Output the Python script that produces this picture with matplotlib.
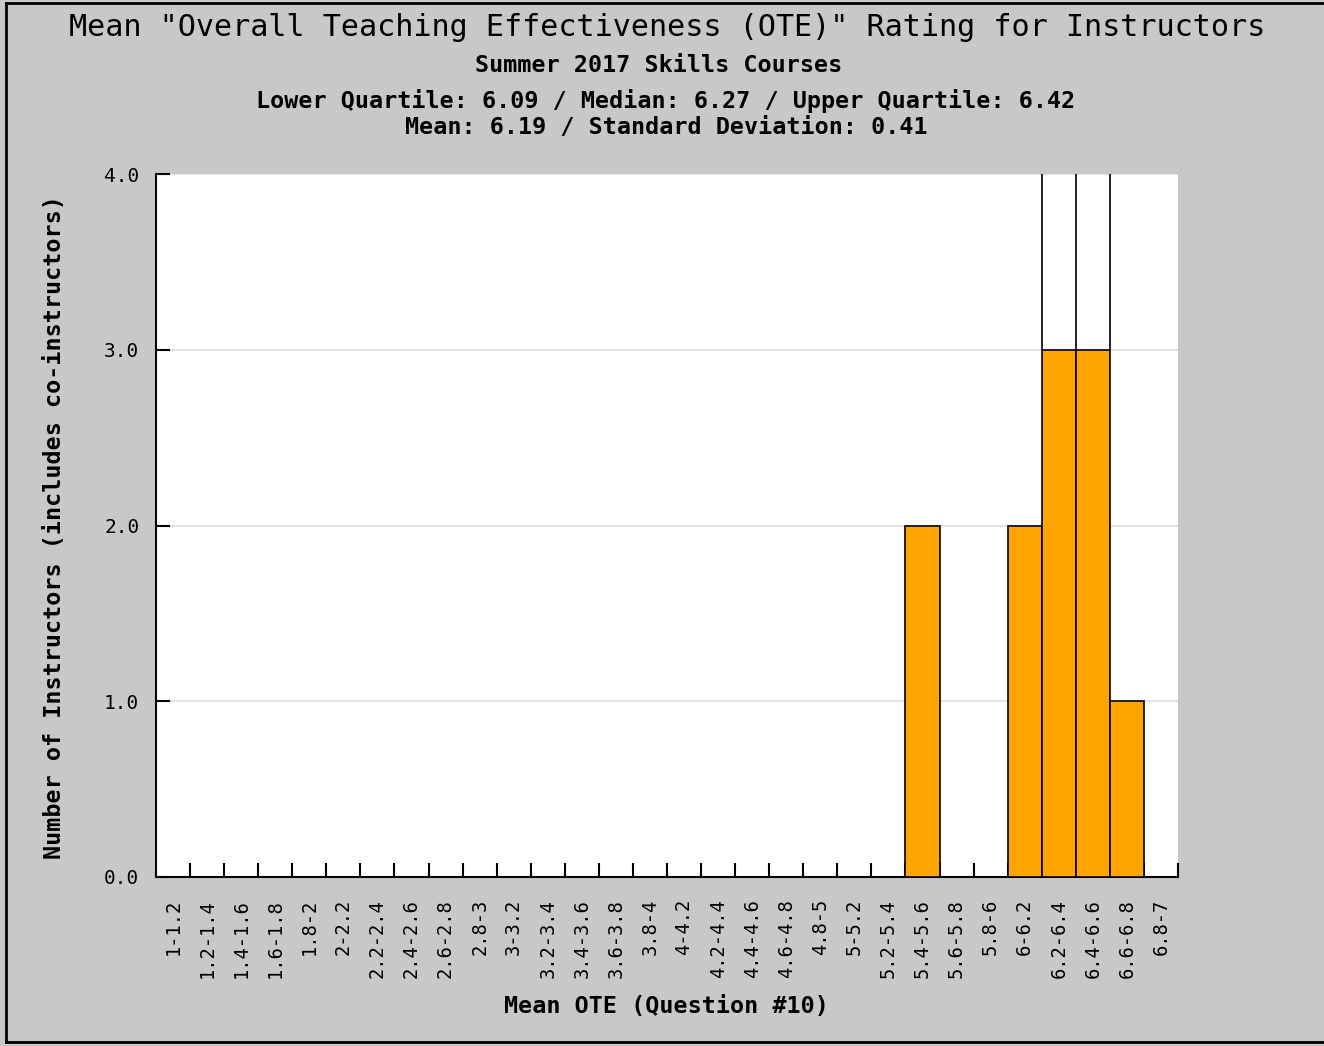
import numpy as np
import matplotlib
matplotlib.use('Agg')
import matplotlib.pyplot as plt
from matplotlib.lines import Line2D

# bins of mean OTE and the instructor count in each
bin_labels = ['1-1.2', '1.2-1.4', '1.4-1.6', '1.6-1.8', '1.8-2', '2-2.2', '2.2-2.4',
              '2.4-2.6', '2.6-2.8', '2.8-3', '3-3.2', '3.2-3.4', '3.4-3.6', '3.6-3.8',
              '3.8-4', '4-4.2', '4.2-4.4', '4.4-4.6', '4.6-4.8', '4.8-5', '5-5.2',
              '5.2-5.4', '5.4-5.6', '5.6-5.8', '5.8-6', '6-6.2', '6.2-6.4', '6.4-6.6',
              '6.6-6.8', '6.8-7']
counts = [0, 0, 0, 0, 0, 0, 0, 0, 0, 0, 0, 0, 0, 0, 0, 0, 0, 0, 0, 0, 0,
          0, 2, 0, 0, 2, 3, 3, 1, 0]
y_ticks = [0, 1, 2, 3, 4]

title = 'Mean "Overall Teaching Effectiveness (OTE)" Rating for Instructors'
subtitle = 'Summer 2017 Skills Courses'
stats1 = 'Lower Quartile: 6.09 / Median: 6.27 / Upper Quartile: 6.42'
stats2 = 'Mean: 6.19 / Standard Deviation: 0.41'

bg = '#c8c8c8'
mono = 'DejaVu Sans Mono'

W, H = 1324, 1046
fig = plt.figure(figsize=(W / 100, H / 100), dpi=100, facecolor=bg)
ax = fig.add_axes([156 / W, 1 - 877 / H, (1178 - 156) / W, (877 - 174) / H])
ax.set_facecolor('white')

x = np.arange(len(bin_labels))
ax.bar(x, counts, width=1.0, color='#ffa500', edgecolor='black', linewidth=1.2, zorder=3)

ymax = y_ticks[-1]
ax.set_xlim(-0.5, len(bin_labels) - 0.5)
ax.set_ylim(0, ymax)

# lines above the tallest bars
top = max(counts)
edges = set()
for i, c in enumerate(counts):
    if c == top:
        edges.add(i - 0.5)
        edges.add(i + 0.5)
ax.vlines(sorted(edges), top, ymax, color='black', linewidth=1.2, zorder=3)

for s in ['top', 'right']:
    ax.spines[s].set_visible(False)
for s in ['left', 'bottom']:
    ax.spines[s].set_linewidth(1.5)

ax.set_yticks(y_ticks)
ax.set_yticklabels([f'{v:.1f}' for v in y_ticks], fontfamily=mono, fontsize=14)
ax.tick_params(axis='y', direction='in', length=10, width=1.5, pad=12)
ax.yaxis.grid(True, color='#dedede', linewidth=1.2, zorder=0)

ax.set_xticks(x)
ax.set_xticklabels(bin_labels, rotation=90, fontfamily=mono, fontsize=13.5, va='top')
ax.set_xticks(np.arange(len(bin_labels)) + 0.5, minor=True)
ax.tick_params(axis='x', which='major', length=0, pad=16)
ax.tick_params(axis='x', which='minor', direction='in', length=10, width=1.5)

fig.text(666 / W, 1 - 1006 / H, 'Mean OTE (Question #10)', ha='center', va='center',
         fontfamily=mono, fontsize=16.8, fontweight='bold')
fig.text(55 / W, 1 - 527 / H, 'Number of Instructors (includes co-instructors)', ha='center',
         va='center', rotation=90, fontfamily=mono, fontsize=16.8, fontweight='bold')

fig.text(667 / W, 1 - 28 / H, title, ha='center', va='center', fontfamily=mono, fontsize=21.7)
fig.text(659 / W, 1 - 65 / H, subtitle, ha='center', va='center', fontfamily=mono,
         fontsize=16.8, fontweight='bold')
fig.text(666 / W, 1 - 101 / H, stats1, ha='center', va='center', fontfamily=mono,
         fontsize=16.8, fontweight='bold')
fig.text(666 / W, 1 - 127 / H, stats2, ha='center', va='center', fontfamily=mono,
         fontsize=16.8, fontweight='bold')

# outer frame: left, top and bottom only
x0, yt, yb = 6 / W, 1 - 3 / H, 1 - 1042 / H
fig.lines.append(Line2D([x0, x0], [yb, yt], transform=fig.transFigure, color='black', linewidth=2))
fig.lines.append(Line2D([x0, 1], [yt, yt], transform=fig.transFigure, color='black', linewidth=2))
fig.lines.append(Line2D([x0, 1], [yb, yb], transform=fig.transFigure, color='black', linewidth=2))

fig.savefig('out.png', dpi=100, facecolor=bg)
